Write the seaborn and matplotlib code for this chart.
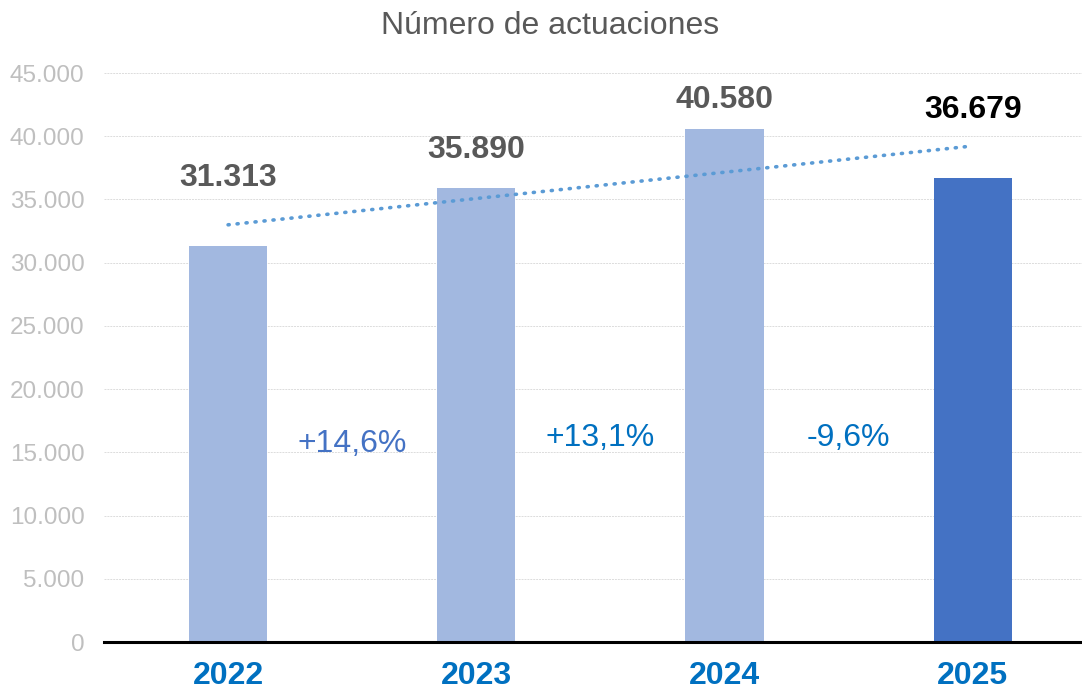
import numpy as np
import pandas as pd
import matplotlib
matplotlib.use("Agg")
import matplotlib.pyplot as plt
import seaborn as sns

# data
years = ["2022", "2023", "2024", "2025"]
values = [31313, 35890, 40580, 36679]
changes = ["+14,6%", "+13,1%", "-9,6%"]
title = "Número de actuaciones"

bar_colors = ["#A2B8E0", "#A2B8E0", "#A2B8E0", "#4472C4"]
label_colors = ["#595959", "#595959", "#595959", "#000000"]
change_colors = ["#4472C4", "#0070C0", "#0070C0"]
label_y = [36700, 38950, 42900, 42100]
change_y = [15700, 16150, 16150]


def fmt(v):
    return f"{v:,.0f}".replace(",", ".")


sns.set_theme(style="white")
plt.rcParams["font.family"] = ["Liberation Sans", "DejaVu Sans"]

df = pd.DataFrame({"year": years, "value": values})

fig = plt.figure(figsize=(10.82, 6.91), dpi=100)
ax = fig.add_axes([0.0961, 0.0709, 0.9039, 0.8234])

sns.barplot(data=df, x="year", y="value", hue="year", palette=bar_colors,
            width=0.315, legend=False, ax=ax, saturation=1, linewidth=0)

# linear trendline
xs = np.arange(len(values))
slope, intercept = np.polyfit(xs, values, 1)
ax.plot(xs, slope * xs + intercept, color="#5B9BD5", linewidth=2.6,
        linestyle=(0, (0.3, 2.2)), dash_capstyle="round", zorder=3)

# value labels
for i, v in enumerate(values):
    ax.text(i, label_y[i], fmt(v), ha="center", va="center", fontsize=23,
            fontweight="bold", color=label_colors[i])

# percent changes between bars
for i, c in enumerate(changes):
    ax.text(i + 0.5, change_y[i], c, ha="center", va="center", fontsize=23,
            color=change_colors[i])

ax.set_ylim(0, 45000)
ax.set_xlim(-0.5, 3.44)
ax.set_yticks(range(0, 45001, 5000))
ax.set_yticklabels([fmt(t) for t in range(0, 45001, 5000)], fontsize=17.5, color="#BFBFBF")
ax.tick_params(axis="y", length=0, pad=14)
ax.tick_params(axis="x", length=0, pad=14)
for lbl in ax.get_xticklabels():
    lbl.set_fontsize(23)
    lbl.set_fontweight("bold")
    lbl.set_color("#0070C0")

ax.yaxis.grid(True, color="#DCDCDC", linestyle=(0, (2, 1)), linewidth=0.7)
ax.set_axisbelow(True)
for s in ["top", "right", "left"]:
    ax.spines[s].set_visible(False)
ax.spines["bottom"].set_color("black")
ax.spines["bottom"].set_linewidth(2.2)
ax.set_xlabel("")
ax.set_ylabel("")

fig.text(0.508, 0.962, title, ha="center", va="center", fontsize=23, color="#595959")

fig.savefig("out.png", dpi=100)
